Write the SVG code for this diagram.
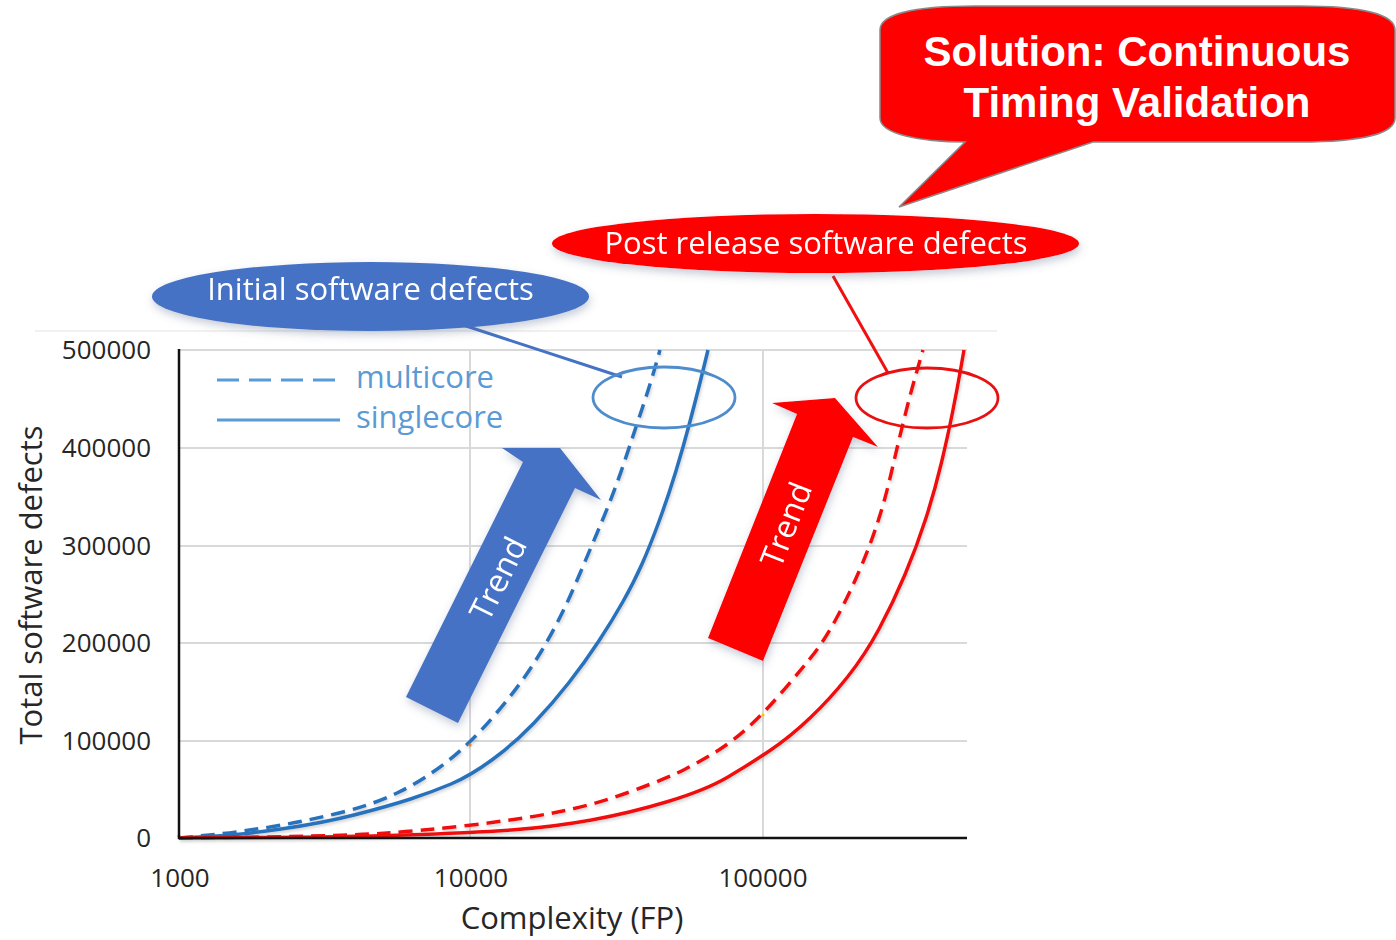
<svg xmlns="http://www.w3.org/2000/svg" width="1396" height="940" viewBox="0 0 1396 940">
  <defs>
    <filter id="softShadow" x="-20%" y="-30%" width="140%" height="170%">
      <feDropShadow dx="1" dy="4" stdDeviation="4" flood-color="#5a6b8c" flood-opacity="0.35"/>
    </filter>
    <filter id="lineShadow" x="-10%" y="-10%" width="120%" height="120%">
      <feDropShadow dx="1" dy="2" stdDeviation="1.5" flood-color="#808080" flood-opacity="0.35"/>
    </filter>
  </defs>
  <style>
    .sans { font-family: "Open Sans", "Liberation Sans", sans-serif; }
    .grid { stroke: #d9d9d9; stroke-width: 2; fill: none; }
    .axis { stroke: #111111; stroke-width: 2.5; fill: none; }
    .tick { font-size: 26px; fill: #262626; }
    .title { font-size: 31px; fill: #262626; }
    .blue { stroke: #2672bd; stroke-width: 3.5; fill: none; stroke-linecap: butt; stroke-linejoin: round; }
    .red { stroke: #f01010; stroke-width: 3.5; fill: none; stroke-linejoin: round; }
    .dash { stroke-dasharray: 14 8; }
    .legend { font-size: 31px; fill: #5b9bd5; }
    .white { fill: #ffffff; }
    .bubble { font-family: "Liberation Sans", Arial, sans-serif; font-weight: bold; font-size: 42px; fill: #ffffff; }
  </style>

  <rect width="1396" height="940" fill="#ffffff"/>

  <!-- chart frame top edge -->
  <line x1="35" y1="331" x2="997" y2="331" stroke="#ececec" stroke-width="1.5"/>

  <!-- grid -->
  <g id="grid">
    <line class="grid" x1="179" y1="350" x2="967" y2="350"/>
    <line class="grid" x1="179" y1="448" x2="967" y2="448"/>
    <line class="grid" x1="179" y1="546" x2="967" y2="546"/>
    <line class="grid" x1="179" y1="643" x2="967" y2="643"/>
    <line class="grid" x1="179" y1="741" x2="967" y2="741"/>
    <line class="grid" x1="470" y1="350" x2="470" y2="838"/>
    <line class="grid" x1="763" y1="350" x2="763" y2="838"/>
  </g>

  <!-- data series -->
  <g id="series" filter="url(#lineShadow)">
    <path id="multicore-initial" class="blue dash" d="M179,838 L209.5,835 Q240,832 273,826.5 Q306,821 339,813 Q372,805 397,793 Q422,781 446,762.5 Q470,744 496.5,713 Q523,682 541.5,651 Q560,620 575,585 Q590,550 602.5,520 Q615,490 625,460 Q635,430 642.5,407.5 Q650,385 655,367.5 L660,350"/>
    <path id="singlecore-initial" class="blue" d="M179,838 L209,836.5 Q239,835 281,829 Q323,823 356,814.5 Q389,806 410.5,799 Q432,792 451,784 Q470,776 492.5,759.5 Q515,743 534,723 Q553,703 569,682.5 Q585,662 598.5,641.5 Q612,621 623,601.5 Q634,582 642,564 Q650,546 659,521.5 Q668,497 675.5,472.5 Q683,448 690,421.5 Q697,395 702.5,372.5 L708,350"/>
    <path id="multicore-post" class="red dash" d="M179,838 L259.5,837 Q340,836 380,833.5 Q420,831 467.5,825.5 Q515,820 553,813 Q591,806 629.5,792 Q668,778 685.5,769 Q703,760 718,750.5 Q733,741 748,727.5 Q763,714 779,695.5 Q795,677 809,660 Q823,643 835.5,620 Q848,597 859,571.5 Q870,546 877.5,523 Q885,500 891,474 Q897,448 903.5,421.5 Q910,395 916.5,372.5 L923,350"/>
    <path id="singlecore-post" class="red" d="M179,838 L259.5,837.5 Q340,837 405,835 Q470,833 511.5,830 Q553,827 591.5,820 Q630,813 668,801.5 Q706,790 728,777 Q750,764 770,750.5 Q790,737 810,718 Q830,699 847.5,677 Q865,655 879,629 Q893,603 905,574.5 Q917,546 926,518 Q935,490 941.5,462.5 Q948,435 952.5,412.5 Q957,390 960.5,370 L964,350"/>
  </g>
  <circle cx="470" cy="745" r="1.6" fill="#ed7d31"/>
  <circle cx="763" cy="715" r="1.6" fill="#ffc000"/>
  <circle cx="179" cy="836" r="1.6" fill="#ed7d31"/>

  <!-- axes -->
  <g id="axes">
    <line class="axis" x1="179" y1="349" x2="179" y2="839"/>
    <line class="axis" x1="178" y1="838" x2="967" y2="838"/>
  </g>

  <!-- axis labels -->
  <g id="y-ticks" class="sans tick" text-anchor="end">
    <text x="151" y="359">500000</text>
    <text x="151" y="457">400000</text>
    <text x="151" y="555">300000</text>
    <text x="151" y="652">200000</text>
    <text x="151" y="750">100000</text>
    <text x="151" y="847">0</text>
  </g>
  <g id="x-ticks" class="sans tick" text-anchor="middle">
    <text x="180" y="887">1000</text>
    <text x="471" y="887">10000</text>
    <text x="763" y="887">100000</text>
  </g>
  <text id="x-title" class="sans title" x="572" y="929" text-anchor="middle">Complexity (FP)</text>
  <text id="y-title" class="sans title" transform="translate(42,585) rotate(-90)" text-anchor="middle">Total software defects</text>

  <!-- legend -->
  <g id="legend">
    <line x1="217" y1="380" x2="335" y2="380" stroke="#5b9bd5" stroke-width="3" stroke-dasharray="22 10"/>
    <text class="sans legend" x="356" y="388">multicore</text>
    <line x1="217" y1="420" x2="340" y2="420" stroke="#5b9bd5" stroke-width="3"/>
    <text class="sans legend" x="356" y="428">singlecore</text>
  </g>

  <!-- connectors from labels to highlight rings -->
  <g id="connectors">
    <line x1="463" y1="325" x2="622" y2="377" stroke="#4472c4" stroke-width="3"/>
    <line x1="833" y1="276" x2="888" y2="373" stroke="#f01010" stroke-width="3"/>
  </g>

  <!-- highlight rings -->
  <g id="ring-initial">
    <ellipse cx="664" cy="397.5" rx="71" ry="30.5" fill="none" stroke="#4e8ccb" stroke-width="2.8"/>
  </g>
  <g id="ring-post">
    <ellipse cx="927" cy="398" rx="71" ry="30" fill="none" stroke="#e81010" stroke-width="2.8"/>
  </g>

  <!-- trend arrows -->
  <g id="trend-initial" filter="url(#softShadow)">
    <polygon points="406,697 523,462 502,448 560,448 601,500 575,488 458,723" fill="#4472c4"/>
    <text class="sans white" font-size="32" transform="translate(497,578) rotate(-63.4)" text-anchor="middle" dominant-baseline="central">Trend</text>
  </g>
  <g id="trend-post" filter="url(#softShadow)">
    <polygon points="708,638 797,414 772,403 835,398 878,447 853,437 763,661" fill="#ff0000"/>
    <text class="sans white" font-size="32" transform="translate(785,524) rotate(-68.4)" text-anchor="middle" dominant-baseline="central">Trend</text>
  </g>

  <!-- label ellipses -->
  <g id="label-initial" filter="url(#softShadow)">
    <ellipse cx="370.5" cy="296.5" rx="218.5" ry="34.5" fill="#4472c4"/>
    <text class="sans white" font-size="31" x="370.5" y="300" text-anchor="middle">Initial software defects</text>
  </g>
  <g id="label-post" filter="url(#softShadow)">
    <ellipse cx="815.5" cy="243.5" rx="263.5" ry="29.5" fill="#ff0000"/>
    <text class="sans white" font-size="31" x="816" y="254" text-anchor="middle">Post release software defects</text>
  </g>

  <!-- callout -->
  <g id="callout-solution">
    <path d="M880,30 C880,14 915,6 975,6 L1300,6 C1360,6 1395,14 1395,30 L1395,118 C1395,134 1360,142 1300,142 L1093,142 L899,207 L965,142 C920,142 880,134 880,118 Z" fill="#ff0000" stroke="#8a8a8a" stroke-width="1.5"/>
    <text class="bubble" x="1137" y="66" text-anchor="middle">Solution: Continuous</text>
    <text class="bubble" x="1137" y="117" text-anchor="middle">Timing Validation</text>
  </g>
</svg>
